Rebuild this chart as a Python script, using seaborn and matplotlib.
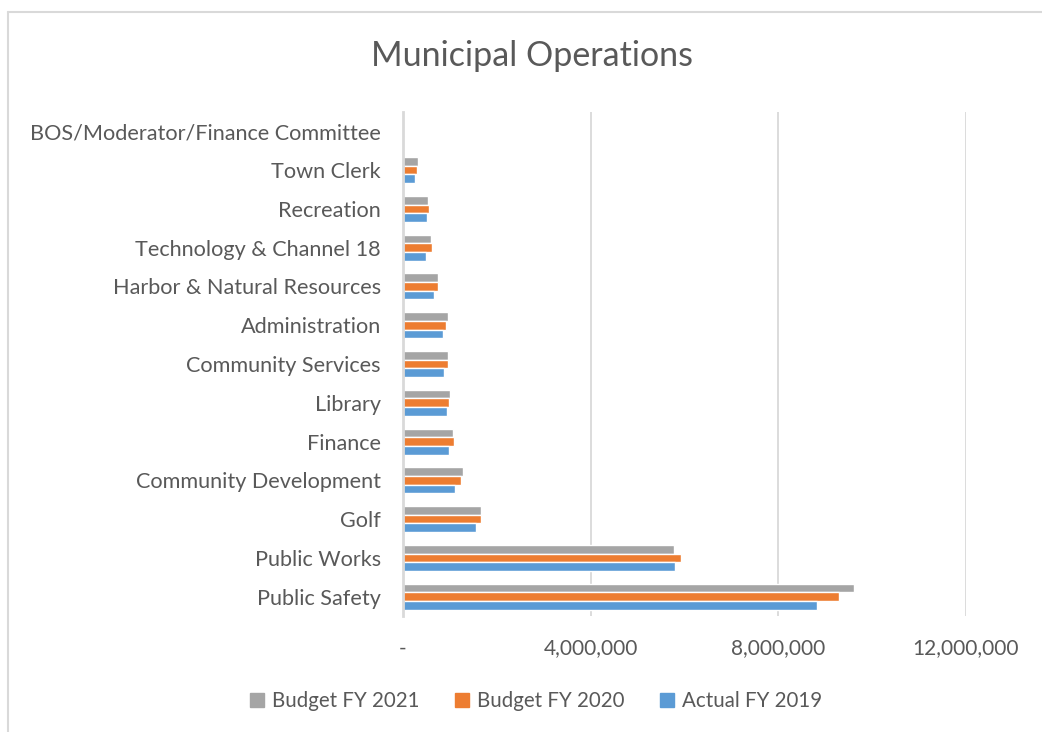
import matplotlib
matplotlib.use("Agg")
import matplotlib.pyplot as plt
from matplotlib.lines import Line2D
from matplotlib.ticker import FuncFormatter
import seaborn as sns
import pandas as pd

categories = [
    "BOS/Moderator/Finance Committee", "Town Clerk", "Recreation",
    "Technology & Channel 18", "Harbor & Natural Resources", "Administration",
    "Community Services", "Library", "Finance", "Community Development",
    "Golf", "Public Works", "Public Safety",
]
series = ["Budget FY 2021", "Budget FY 2020", "Actual FY 2019"]
budget_2021 = [30000, 310000, 530000, 600000, 750000, 950000, 960000,
               1010000, 1070000, 1280000, 1670000, 5780000, 9610000]
budget_2020 = [25000, 290000, 550000, 620000, 740000, 925000, 955000,
               990000, 1090000, 1240000, 1660000, 5930000, 9300000]
actual_2019 = [10000, 260000, 510000, 480000, 660000, 860000, 880000,
               930000, 970000, 1110000, 1550000, 5790000, 8830000]
x_ticks = [0, 4000000, 8000000, 12000000]

colors = ["#A5A5A5", "#ED7D31", "#5B9BD5"]
text_color = "#595959"

df = pd.DataFrame({
    "Department": categories * 3,
    "Series": [s for s in series for _ in categories],
    "Amount": budget_2021 + budget_2020 + actual_2019,
})

sns.set_theme(style="white")
plt.rcParams["font.family"] = ["Lato", "DejaVu Sans"]

fig = plt.figure(figsize=(10.42, 7.32), dpi=100)
ax = fig.add_axes([403 / 1042, 1 - 616 / 732, (966 - 403) / 1042, (616 - 112) / 732])

sns.barplot(data=df, y="Department", x="Amount", hue="Series",
            order=categories, hue_order=series, palette=colors,
            orient="h", width=0.67, saturation=1, ax=ax, legend=True)

ax.set_xlim(0, 12000000)
ax.set_xticks(x_ticks)
ax.xaxis.set_major_formatter(FuncFormatter(lambda v, _: "-" if v == 0 else f"{v:,.0f}"))
ax.grid(axis="x", color="#D9D9D9", linewidth=1.3)
ax.set_axisbelow(True)
for side in ["top", "right", "bottom"]:
    ax.spines[side].set_visible(False)
ax.spines["left"].set_color("#D9D9D9")
ax.spines["left"].set_linewidth(2)
ax.set_xlabel("")
ax.set_ylabel("")
ax.tick_params(axis="y", length=0, pad=16, labelsize=15.6, labelcolor=text_color)
ax.tick_params(axis="x", length=0, pad=16, labelsize=15, labelcolor=text_color)

ax.legend_.remove()
handles = [plt.Rectangle((0, 0), 1, 1, color=c) for c in colors]
fig.legend(handles, series, loc="center", bbox_to_anchor=(536 / 1042, 1 - 701 / 732),
           ncol=3, frameon=False, fontsize=14.8, labelcolor=text_color,
           handlelength=0.7, handleheight=0.7, handletextpad=0.4, columnspacing=1.7)

fig.text(532 / 1042, 1 - 56 / 732, "Municipal Operations", ha="center", va="center",
         fontsize=24.5, color=text_color)

# chart border
fig.add_artist(Line2D([8 / 1042, 8 / 1042], [0, 1 - 12 / 732], transform=fig.transFigure,
                      color="#D9D9D9", linewidth=1.5))
fig.add_artist(Line2D([8 / 1042, 1], [1 - 12 / 732, 1 - 12 / 732], transform=fig.transFigure,
                      color="#D9D9D9", linewidth=1.5))

fig.savefig("out.png", dpi=100)
